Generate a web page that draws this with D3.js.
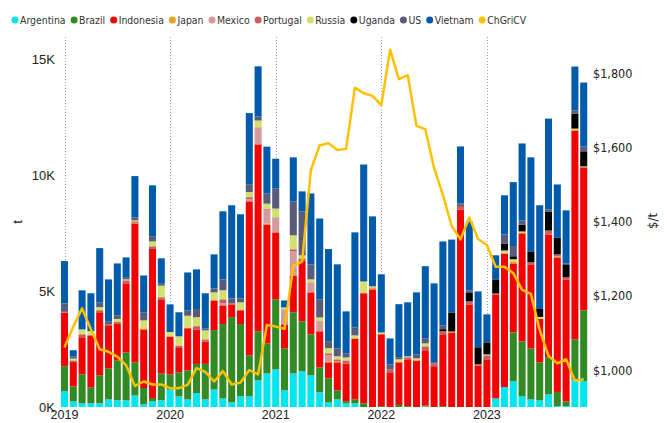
<!DOCTYPE html>
<html><head><meta charset="utf-8">
<script src="https://cdn.jsdelivr.net/npm/d3@7/dist/d3.min.js"></script>
<style>
body{margin:0;background:#fff;}
svg{display:block;}
</style></head><body>
<svg id="chart" width="667" height="423"></svg>
<script>
// ---- categories ----
const months = d3.timeMonths(new Date(2019,0,1), new Date(2024,0,1)).map(d3.timeFormat("%Y-%m"));
const yearLabels = ["2019","2020","2021","2022","2023"];
const seriesNames = ["Argentina","Brazil","Indonesia","Japan","Mexico","Portugal","Russia","Uganda","US","Vietnam"];
const lineName = "ChGriCV";
const seriesColors = ["#00E5EE","#318A24","#F00505","#E6A320","#D49A9C","#C2615F","#D3E06E","#000000","#585C7C","#005CAA"];
const lineColor = "#FFC000";

// ---- series values (tonnes) ----
const argentina = [680,240,160,160,160,330,290,290,500,120,250,290, 750,460,330,600,330,760,370,200,460,460,1150,1450, 1630,720,1450,1540,1370,630,200,330,160,160,0,0, 0,0,0,0,0,20,0,0,0,0,0,0, 0,370,860,1120,460,330,290,550,40,40,1210,1120];
const brazil = [1080,650,1250,690,1210,1340,1720,2070,1430,700,140,1150, 660,1040,1250,1260,1530,2560,3210,3680,3120,1770,2120,1300, 3020,1810,2640,2160,1770,1080,1040,390,90,170,160,0, 40,0,90,40,0,40,0,40,0,0,0,0, 0,0,0,2100,2370,2200,1640,1590,610,200,1710,3050];
const indonesia = [2310,1050,1600,2230,2720,1860,1600,2980,6000,2530,6460,3210, 1630,1080,1820,1490,970,1280,810,550,590,6650,8070,5130, 2890,1040,1590,2630,1810,1560,690,1210,1630,2630,4750,5080, 3100,1500,1840,2020,2010,2390,1760,3100,3220,8530,4430,1800, 2060,4490,5770,2980,4670,3630,1870,5310,5810,5270,9020,6180];
const japan = [0,0,0,0,0,0,0,0,30,40,0,0, 20,0,30,0,0,40,0,0,0,0,0,40, 0,0,0,0,0,0,40,40,0,0,40,90, 40,0,40,0,0,0,0,0,40,0,0,40, 0,0,0,90,40,0,0,0,40,0,40,0];
const mexico = [0,0,0,0,0,0,0,0,0,0,0,0, 0,0,0,0,0,0,90,0,0,90,690,600, 600,650,1040,0,390,390,260,0,0,0,0,0, 0,0,0,0,0,0,0,0,0,0,0,0, 0,0,0,0,0,0,0,0,0,0,0,0];
const portugal = [40,70,130,30,90,40,60,130,60,0,90,90, 0,70,0,140,90,0,170,40,40,90,40,40, 40,0,90,90,40,40,90,90,130,0,0,0, 0,130,0,90,0,170,130,130,0,170,130,0, 170,40,0,0,0,90,0,170,90,90,0,0];
const russia = [0,80,210,170,130,0,130,40,40,350,210,500, 180,400,510,390,390,310,390,0,310,220,300,220, 390,80,600,130,130,170,220,130,130,130,470,40, 40,0,90,40,90,130,0,0,0,0,0,0, 40,0,130,90,40,0,90,0,0,0,40,40];
const uganda = [0,0,0,0,0,0,0,0,0,0,0,0, 0,0,0,0,0,0,0,0,0,0,0,0, 0,0,0,0,0,0,0,0,0,0,0,0, 0,0,0,0,0,0,0,90,820,40,390,740, 520,610,300,130,300,470,340,820,730,560,650,650];
const us = [360,100,0,0,200,130,160,70,120,350,220,80, 0,0,230,350,90,170,470,220,170,340,180,430, 860,0,1470,1900,650,780,300,340,180,350,0,0, 0,200,90,0,170,220,50,170,0,50,90,0, 0,0,390,440,180,0,0,90,0,40,130,210];
const vietnam = [1830,260,1690,1630,2350,1810,2240,880,1790,1590,2200,1100, 1190,1040,1640,1710,1510,1470,2940,4020,3630,3070,2160,2030, 1290,300,1900,860,3060,3490,3980,3630,1810,4100,5050,3020, 2510,1130,2290,2330,2680,3110,3400,3620,3150,2460,2970,2410, 1210,1040,1690,2760,3320,4060,4480,3920,2290,2290,1900,2760];
const chgricv = [1061,1117,1166,1110,1056,1049,1036,1013,957,969,961,961, 951,951,960,1005,995,969,997,961,966,1000,988,1121, 1117,1111,1281,1292,1539,1606,1611,1593,1596,1761,1746,1739, 1714,1863,1784,1795,1658,1649,1544,1472,1388,1352,1411,1353, 1337,1278,1278,1261,1216,1205,1108,1038,1018,1029,971,975];
const leftTicks = [0,5000,10000,15000];
const rightTicks = [1000,1200,1400,1600,1800];

const seriesValues = [argentina,brazil,indonesia,japan,mexico,portugal,russia,uganda,us,vietnam];
const rows = months.map((m,i)=>{ const r={month:m}; seriesNames.forEach((s,k)=>r[s]=seriesValues[k][i]); return r; });

const svg = d3.select("#chart");
const FONT = "'DejaVu Sans Condensed','DejaVu Sans',sans-serif";
const AXFONT = "'Liberation Sans',Arial,sans-serif";

const x = d3.scaleBand().domain(months).range([60.1, 588.1]).paddingInner(0.2).paddingOuter(0.1);
const y = d3.scaleLinear().domain([0,15000]).range([407, 59.6]);
const y2 = d3.scaleLinear().domain([1000,1800]).range([370, 73.2]);
const cx = m => x(m) + x.bandwidth()/2;

// year gridlines
const janMonths = months.filter(m=>m.endsWith("-01"));
svg.append("g").selectAll("line").data(janMonths).join("line")
  .attr("x1",d=>Math.round(cx(d))+0.5).attr("x2",d=>Math.round(cx(d))+0.5)
  .attr("y1",37).attr("y2",407)
  .attr("stroke","#a0a0a0").attr("stroke-width",1).attr("stroke-dasharray","1,2");

// stacked bars
const stacked = d3.stack().keys(seriesNames)(rows);
svg.append("g").selectAll("g").data(stacked).join("g")
  .attr("fill",(d,i)=>seriesColors[i])
  .selectAll("rect").data(d=>d).join("rect")
  .attr("x",d=>x(d.data.month)).attr("width",x.bandwidth())
  .attr("y",d=>y(d[1])).attr("height",d=>Math.max(0,y(d[0])-y(d[1])));

// price line
svg.append("path").datum(chgricv)
  .attr("fill","none").attr("stroke",lineColor).attr("stroke-width",2.5)
  .attr("stroke-linejoin","round")
  .attr("d", d3.line().x((d,i)=>cx(months[i])).y(d=>y2(d)));

// left axis
const gl = svg.append("g").attr("transform","translate(58,0)")
  .call(d3.axisLeft(y).tickValues(leftTicks).tickFormat(d=>(d/1000)+"K").tickSize(0).tickPadding(3));
gl.select(".domain").remove();
gl.selectAll("text").attr("font-family",AXFONT).attr("font-size",13).attr("fill","#222");

// right axis
const gr = svg.append("g").attr("transform","translate(590,0)")
  .call(d3.axisRight(y2).tickValues(rightTicks).tickFormat(d=>"$"+d3.format(",")(d)).tickSize(0).tickPadding(3));
gr.select(".domain").remove();
gr.selectAll("text").attr("font-family",FONT).attr("font-size",12.5).attr("fill","#222");

// x axis
const gx = svg.append("g").attr("transform","translate(0,407)")
  .call(d3.axisBottom(x).tickValues(janMonths).tickFormat((d,i)=>yearLabels[i]).tickSize(0).tickPadding(3));
gx.select(".domain").remove();
gx.selectAll("text").attr("font-family",AXFONT).attr("font-size",12.5).attr("fill","#222");

// axis titles
svg.append("text").attr("transform","translate(22,222) rotate(-90)").attr("text-anchor","middle")
  .attr("font-family",AXFONT).attr("font-size",13).attr("fill","#222").text("t");
svg.append("text").attr("transform","translate(657,221) rotate(-90)").attr("text-anchor","middle")
  .attr("font-family",FONT).attr("font-size",13).attr("fill","#222").text("$/t");

// legend
const legendItems = seriesNames.map((n,i)=>({name:n,color:seriesColors[i]})).concat([{name:lineName,color:lineColor}]);
let lx = 15;
const lg = svg.append("g");
legendItems.forEach(it=>{
  lg.append("circle").attr("cx",lx).attr("cy",20).attr("r",3.5).attr("fill",it.color);
  const t = lg.append("text").attr("x",lx+5).attr("y",24).attr("font-family",FONT).attr("font-size",10.4).attr("fill","#333").text(it.name);
  lx = lx + 5 + t.node().getComputedTextLength() + 8.5;
});
</script>
</body></html>
